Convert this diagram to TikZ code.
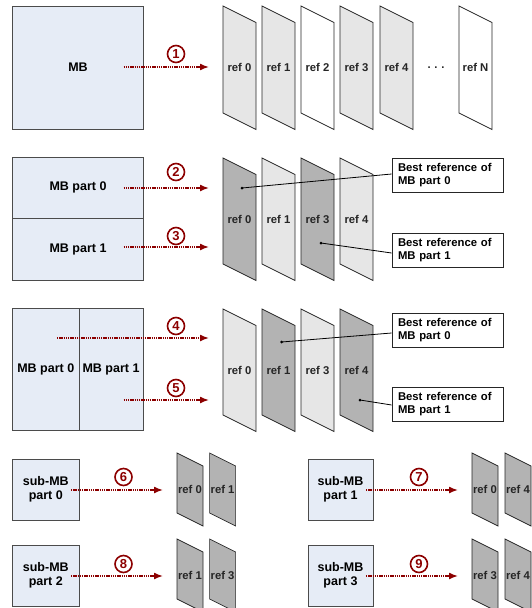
\documentclass[tikz,border=0pt]{standalone}
\usepackage{fontspec}
\setmainfont{Liberation Sans}
\usepackage{xcolor}
\usepackage{tikz}
\usetikzlibrary{positioning,arrows.meta}

\definecolor{mbfill}{RGB}{230,236,246}
\definecolor{mbline}{RGB}{75,75,75}
\definecolor{hopred}{RGB}{140,0,0}
\definecolor{reflight}{RGB}{230,230,230}
\definecolor{refdark}{RGB}{179,179,179}

% #1 name, #2 left x, #3 top y, #4 width, #5 height, #6 fill, #7 label
\newcommand{\refpg}[7]{%
  \draw[refedge, fill=#6] (#2,#3) -- ++(#4,#4/2) -- ++(0,#5) -- ++(-#4,-#4/2) -- cycle;
  \node[reflabel] (#1) at ({#2+#4/2},{#3+#4/4+#5/2}) {#7};
}

\begin{document}
\begin{tikzpicture}[
  x=1pt, y=-1pt,
  font=\bfseries,
  mbbox/.style={draw=mbline, fill=mbfill, line width=0.8pt, align=center, inner sep=0pt,
    font=\bfseries\fontsize{12.5}{13.5}\selectfont},
  refedge/.style={draw=black!85, line width=0.7pt},
  reflabel/.style={inner sep=0pt, text=black!85, font=\bfseries\fontsize{11.3}{13}\selectfont},
  hop/.style={-{Latex[length=9pt,width=7pt]}, hopred, line width=1.5pt, dash pattern=on 1.4pt off 0.8pt},
  stepnum/.style={circle, draw=hopred, text=hopred, line width=1.6pt, minimum size=17pt, inner sep=0pt,
    font=\bfseries\fontsize{13}{13}\selectfont},
  callout/.style={draw=black!85, fill=white, line width=0.8pt, minimum width=111pt, minimum height=34pt,
    text width=99pt, align=left, inner sep=0pt, font=\bfseries\fontsize{11.3}{13}\selectfont},
  pinpt/.style={circle, fill=black, inner sep=0pt, minimum size=3pt},
  pointer/.style={black, line width=0.8pt}
]
\useasboundingbox (0,0) rectangle (532,608);
\clip (0,0) rectangle (532,608);

% row 1
\node[mbbox, minimum width=131pt, minimum height=123pt] (mb) at (78,67.5) {MB};
\refpg{ra0}{223}{6}{33}{107}{reflight}{ref 0}
\refpg{ra1}{262}{6}{33}{107}{reflight}{ref 1}
\refpg{ra2}{301}{6}{33}{107}{white}{ref 2}
\refpg{ra3}{340}{6}{33}{107}{reflight}{ref 3}
\refpg{ra4}{380}{6}{33}{107}{reflight}{ref 4}
\node[reflabel] (dots) at (436,67.5) {.\,\,.\,\,.};
\refpg{raN}{459}{6}{33}{107}{white}{ref N}
\coordinate (h1s) at (123.5,67);
\coordinate (h1e) at (209,67);
\draw[hop] (h1s) -- (h1e);
\node[stepnum] (n1) at (176,54) {1};

% row 2
\node[mbbox, minimum width=131pt, minimum height=61pt] (mbp0) at (78,187.5) {MB part 0};
\node[mbbox, minimum width=131pt, minimum height=62.5pt] (mbp1) at (78,249.25) {MB part 1};
\refpg{rb0}{223}{158}{33}{106}{refdark}{ref 0}
\refpg{rb1}{262}{158}{33}{106}{reflight}{ref 1}
\refpg{rb3}{301}{158}{33}{106}{refdark}{ref 3}
\refpg{rb4}{340}{158}{33}{106}{reflight}{ref 4}
\coordinate (h2s) at (123.5,188);
\coordinate (h2e) at (209,188);
\coordinate (h3s) at (123.5,247);
\coordinate (h3e) at (209,247);
\draw[hop] (h2s) -- (h2e);
\draw[hop] (h3s) -- (h3e);
\node[stepnum] (n2) at (176,172) {2};
\node[stepnum] (n3) at (176,236) {3};
\node[callout] (cb0) at (447.5,175) {Best reference of\\MB part 0};
\node[callout] (cb1) at (447.5,250) {Best reference of\\MB part 1};
\node[pinpt] (pb0) at (242,188) {};
\node[pinpt] (pb1) at (321,243) {};
\draw[pointer] (pb0.center) -- ([yshift=1pt]cb0.west);
\draw[pointer] (pb1.center) -- ([yshift=-3pt]cb1.west);

% row 3
\node[mbbox, minimum width=66.4pt, minimum height=122pt] (mbq0) at (45.8,369) {MB part 0};
\node[mbbox, minimum width=64pt, minimum height=122pt] (mbq1) at (111,369) {MB part 1};
\refpg{rc0}{223}{309}{33}{106}{reflight}{ref 0}
\refpg{rc1}{262}{309}{33}{106}{refdark}{ref 1}
\refpg{rc3}{301}{309}{33}{106}{reflight}{ref 3}
\refpg{rc4}{340}{309}{33}{106}{refdark}{ref 4}
\coordinate (h4s) at (57,338);
\coordinate (h4e) at (209,338);
\coordinate (h5s) at (123.5,400);
\coordinate (h5e) at (209,400);
\draw[hop] (h4s) -- (h4e);
\draw[hop] (h5s) -- (h5e);
\node[stepnum] (n4) at (176,326) {4};
\node[stepnum] (n5) at (176,388) {5};
\node[callout] (cc0) at (447.5,330) {Best reference of\\MB part 0};
\node[callout] (cc1) at (447.5,404) {Best reference of\\MB part 1};
\node[pinpt] (pc0) at (281.6,342) {};
\node[pinpt] (pc1) at (360,400) {};
\draw[pointer] (pc0.center) -- ([yshift=-3pt]cc0.west);
\draw[pointer] (pc1.center) -- ([yshift=-1pt]cc1.west);

% rows 4 and 5
\node[mbbox, minimum width=66.4pt, minimum height=61pt] (sub0) at (45.8,489.5) {sub-MB\\part 0};
\node[mbbox, minimum width=65pt, minimum height=61pt] (sub1) at (340.5,489.5) {sub-MB\\part 1};
\node[mbbox, minimum width=66.4pt, minimum height=61pt] (sub2) at (45.8,575.5) {sub-MB\\part 2};
\node[mbbox, minimum width=65pt, minimum height=61pt] (sub3) at (340.5,575.5) {sub-MB\\part 3};
\refpg{rd0}{177}{453}{26}{60}{refdark}{ref 0}
\refpg{rd1}{209.6}{453}{26}{60}{refdark}{ref 1}
\refpg{re0}{472}{453}{26}{60}{refdark}{ref 0}
\refpg{re4}{505}{453}{26}{60}{refdark}{ref 4}
\refpg{rf1}{177}{539}{26}{60}{refdark}{ref 1}
\refpg{rf3}{209.6}{539}{26}{60}{refdark}{ref 3}
\refpg{rg3}{472}{539}{26}{60}{refdark}{ref 3}
\refpg{rg4}{505}{539}{26}{60}{refdark}{ref 4}
\coordinate (h6s) at (71,490);
\coordinate (h6e) at (163,490);
\coordinate (h7s) at (366,490);
\coordinate (h7e) at (458,490);
\coordinate (h8s) at (71,576);
\coordinate (h8e) at (163,576);
\coordinate (h9s) at (366,576);
\coordinate (h9e) at (458,576);
\draw[hop] (h6s) -- (h6e);
\draw[hop] (h7s) -- (h7e);
\draw[hop] (h8s) -- (h8e);
\draw[hop] (h9s) -- (h9e);
\node[stepnum] (n6) at (123.5,477) {6};
\node[stepnum] (n7) at (419,477) {7};
\node[stepnum] (n8) at (123.5,564) {8};
\node[stepnum] (n9) at (419,564) {9};
\end{tikzpicture}
\end{document}
